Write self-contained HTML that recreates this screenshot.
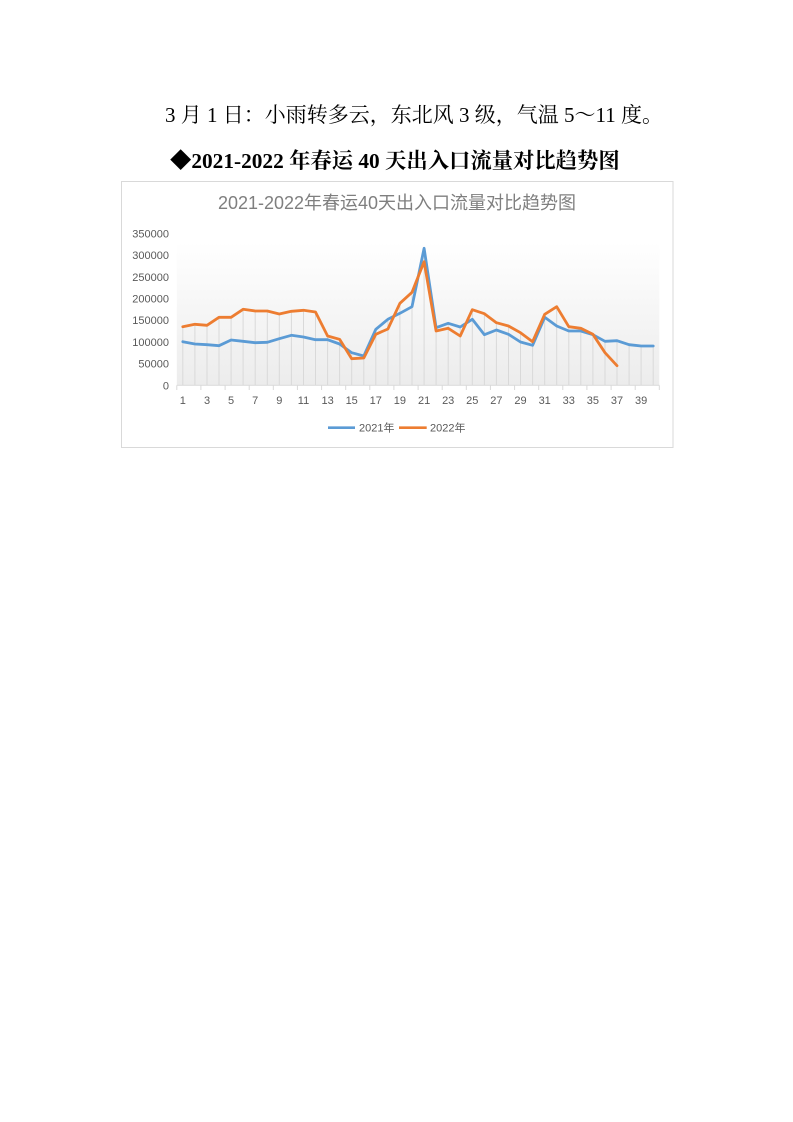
<!DOCTYPE html>
<html>
<head>
<meta charset="utf-8">
<style>
  html, body { margin:0; padding:0; background:#fff; }
  body { width:793px; height:1122px; position:relative; overflow:hidden; }
  .line1 { position:absolute; left:165px; top:101px; font-family:"Liberation Serif","Noto Serif CJK SC",serif; font-size:21px; line-height:28px; color:#000; white-space:pre; }
  .line2 { position:absolute; left:170px; top:146px; font-family:"Liberation Serif","Noto Serif CJK SC",serif; font-size:21.33px; font-weight:bold; line-height:30px; color:#000; white-space:pre; }
  svg { position:absolute; left:0; top:0; }
</style>
</head>
<body>
<div class="line1">3 月 1 日：小雨转多云，东北风 3 级，气温 5～11 度。</div>
<div class="line2">◆2021-2022 年春运 40 天出入口流量对比趋势图</div>
<svg width="793" height="1122" viewBox="0 0 793 1122" xmlns="http://www.w3.org/2000/svg">
  <defs>
    <linearGradient id="pg" x1="0" y1="0" x2="0" y2="1">
      <stop offset="0" stop-color="#ffffff"/>
      <stop offset="1" stop-color="#ececec"/>
    </linearGradient>
  </defs>
  <rect x="121.5" y="181.5" width="551.5" height="266" fill="#ffffff" stroke="#d9d9d9" stroke-width="1"/>
  <text x="397" y="209" text-anchor="middle" font-family="Liberation Sans, Noto Sans CJK SC, sans-serif" font-size="18" fill="#7f7f7f">2021-2022年春运40天出入口流量对比趋势图</text>
  <rect x="176.8" y="242" width="482.5" height="143.3" fill="url(#pg)"/>
  <g stroke="#d9d9d9" stroke-width="1">
    <line x1="182.8" y1="326.7" x2="182.8" y2="385.3"/>
    <line x1="194.9" y1="324.3" x2="194.9" y2="385.3"/>
    <line x1="207.0" y1="325.3" x2="207.0" y2="385.3"/>
    <line x1="219.0" y1="317.3" x2="219.0" y2="385.3"/>
    <line x1="231.1" y1="317.3" x2="231.1" y2="385.3"/>
    <line x1="243.1" y1="309.3" x2="243.1" y2="385.3"/>
    <line x1="255.2" y1="311.0" x2="255.2" y2="385.3"/>
    <line x1="267.3" y1="311.0" x2="267.3" y2="385.3"/>
    <line x1="279.3" y1="314.0" x2="279.3" y2="385.3"/>
    <line x1="291.4" y1="311.3" x2="291.4" y2="385.3"/>
    <line x1="303.5" y1="310.3" x2="303.5" y2="385.3"/>
    <line x1="315.5" y1="312.0" x2="315.5" y2="385.3"/>
    <line x1="327.6" y1="336.0" x2="327.6" y2="385.3"/>
    <line x1="339.6" y1="339.3" x2="339.6" y2="385.3"/>
    <line x1="351.7" y1="352.7" x2="351.7" y2="385.3"/>
    <line x1="363.8" y1="356.0" x2="363.8" y2="385.3"/>
    <line x1="375.8" y1="329.3" x2="375.8" y2="385.3"/>
    <line x1="387.9" y1="319.3" x2="387.9" y2="385.3"/>
    <line x1="399.9" y1="303.3" x2="399.9" y2="385.3"/>
    <line x1="412.0" y1="292.3" x2="412.0" y2="385.3"/>
    <line x1="424.1" y1="248.3" x2="424.1" y2="385.3"/>
    <line x1="436.1" y1="327.7" x2="436.1" y2="385.3"/>
    <line x1="448.2" y1="323.3" x2="448.2" y2="385.3"/>
    <line x1="460.2" y1="327.0" x2="460.2" y2="385.3"/>
    <line x1="472.3" y1="309.7" x2="472.3" y2="385.3"/>
    <line x1="484.4" y1="313.7" x2="484.4" y2="385.3"/>
    <line x1="496.4" y1="322.7" x2="496.4" y2="385.3"/>
    <line x1="508.5" y1="326.0" x2="508.5" y2="385.3"/>
    <line x1="520.5" y1="332.7" x2="520.5" y2="385.3"/>
    <line x1="532.6" y1="341.7" x2="532.6" y2="385.3"/>
    <line x1="544.7" y1="314.3" x2="544.7" y2="385.3"/>
    <line x1="556.7" y1="306.7" x2="556.7" y2="385.3"/>
    <line x1="568.8" y1="326.7" x2="568.8" y2="385.3"/>
    <line x1="580.8" y1="328.3" x2="580.8" y2="385.3"/>
    <line x1="592.9" y1="334.3" x2="592.9" y2="385.3"/>
    <line x1="605.0" y1="341.3" x2="605.0" y2="385.3"/>
    <line x1="617.0" y1="340.7" x2="617.0" y2="385.3"/>
    <line x1="629.1" y1="344.7" x2="629.1" y2="385.3"/>
    <line x1="641.1" y1="346.0" x2="641.1" y2="385.3"/>
    <line x1="653.2" y1="346.0" x2="653.2" y2="385.3"/>
  </g>
  <line x1="176.8" y1="385.3" x2="659.3" y2="385.3" stroke="#d9d9d9" stroke-width="1"/>
  <g stroke="#d9d9d9" stroke-width="1">
    <line x1="176.8" y1="385.3" x2="176.8" y2="390"/>
    <line x1="200.9" y1="385.3" x2="200.9" y2="390"/>
    <line x1="225.1" y1="385.3" x2="225.1" y2="390"/>
    <line x1="249.2" y1="385.3" x2="249.2" y2="390"/>
    <line x1="273.3" y1="385.3" x2="273.3" y2="390"/>
    <line x1="297.4" y1="385.3" x2="297.4" y2="390"/>
    <line x1="321.6" y1="385.3" x2="321.6" y2="390"/>
    <line x1="345.7" y1="385.3" x2="345.7" y2="390"/>
    <line x1="369.8" y1="385.3" x2="369.8" y2="390"/>
    <line x1="393.9" y1="385.3" x2="393.9" y2="390"/>
    <line x1="418.1" y1="385.3" x2="418.1" y2="390"/>
    <line x1="442.2" y1="385.3" x2="442.2" y2="390"/>
    <line x1="466.3" y1="385.3" x2="466.3" y2="390"/>
    <line x1="490.4" y1="385.3" x2="490.4" y2="390"/>
    <line x1="514.6" y1="385.3" x2="514.6" y2="390"/>
    <line x1="538.7" y1="385.3" x2="538.7" y2="390"/>
    <line x1="562.8" y1="385.3" x2="562.8" y2="390"/>
    <line x1="586.9" y1="385.3" x2="586.9" y2="390"/>
    <line x1="611.1" y1="385.3" x2="611.1" y2="390"/>
    <line x1="635.2" y1="385.3" x2="635.2" y2="390"/>
    <line x1="659.3" y1="385.3" x2="659.3" y2="390"/>
  </g>
  <g font-family="Liberation Sans, sans-serif" font-size="11" fill="#595959" text-anchor="end">
    <text x="169" y="389.3">0</text>
    <text x="169" y="367.6">50000</text>
    <text x="169" y="345.9">100000</text>
    <text x="169" y="324.2">150000</text>
    <text x="169" y="302.5">200000</text>
    <text x="169" y="280.8">250000</text>
    <text x="169" y="259.1">300000</text>
    <text x="169" y="237.4">350000</text>
  </g>
  <g font-family="Liberation Sans, sans-serif" font-size="11" fill="#595959" text-anchor="middle">
    <text x="182.8" y="404">1</text>
    <text x="207.0" y="404">3</text>
    <text x="231.1" y="404">5</text>
    <text x="255.2" y="404">7</text>
    <text x="279.3" y="404">9</text>
    <text x="303.5" y="404">11</text>
    <text x="327.6" y="404">13</text>
    <text x="351.7" y="404">15</text>
    <text x="375.8" y="404">17</text>
    <text x="399.9" y="404">19</text>
    <text x="424.1" y="404">21</text>
    <text x="448.2" y="404">23</text>
    <text x="472.3" y="404">25</text>
    <text x="496.4" y="404">27</text>
    <text x="520.5" y="404">29</text>
    <text x="544.7" y="404">31</text>
    <text x="568.8" y="404">33</text>
    <text x="592.9" y="404">35</text>
    <text x="617.0" y="404">37</text>
    <text x="641.1" y="404">39</text>
  </g>
  <polyline fill="none" stroke="#5b9bd5" stroke-width="2.8" stroke-linejoin="round" stroke-linecap="round" points="182.8,341.7 194.9,344.0 207.0,344.7 219.0,345.7 231.1,340.0 243.1,341.3 255.2,342.7 267.3,342.3 279.3,338.7 291.4,335.3 303.5,337.0 315.5,339.7 327.6,339.7 339.6,344.0 351.7,352.7 363.8,356.0 375.8,329.3 387.9,319.3 399.9,313.3 412.0,306.7 424.1,248.3 436.1,327.7 448.2,323.3 460.2,327.0 472.3,319.3 484.4,334.7 496.4,330.0 508.5,334.3 520.5,342.0 532.6,345.3 544.7,317.3 556.7,326.0 568.8,331.0 580.8,331.0 592.9,334.7 605.0,341.3 617.0,340.7 629.1,344.7 641.1,346.0 653.2,346.0"/>
  <polyline fill="none" stroke="#ed7d31" stroke-width="2.8" stroke-linejoin="round" stroke-linecap="round" points="182.8,326.7 194.9,324.3 207.0,325.3 219.0,317.3 231.1,317.3 243.1,309.3 255.2,311.0 267.3,311.0 279.3,314.0 291.4,311.3 303.5,310.3 315.5,312.0 327.6,336.0 339.6,339.3 351.7,358.7 363.8,358.0 375.8,334.3 387.9,329.0 399.9,303.3 412.0,292.3 424.1,261.7 436.1,331.0 448.2,328.3 460.2,336.0 472.3,309.7 484.4,313.7 496.4,322.7 508.5,326.0 520.5,332.7 532.6,341.7 544.7,314.3 556.7,306.7 568.8,326.7 580.8,328.3 592.9,334.3 605.0,352.7 617.0,365.7"/>
  <line x1="328" y1="427.7" x2="355" y2="427.7" stroke="#5b9bd5" stroke-width="2.6"/>
  <text x="359" y="431.6" font-family="Liberation Sans, Noto Sans CJK SC, sans-serif" font-size="11" fill="#595959">2021年</text>
  <line x1="399" y1="427.7" x2="426.7" y2="427.7" stroke="#ed7d31" stroke-width="2.6"/>
  <text x="430" y="431.6" font-family="Liberation Sans, Noto Sans CJK SC, sans-serif" font-size="11" fill="#595959">2022年</text>
</svg>
</body>
</html>
